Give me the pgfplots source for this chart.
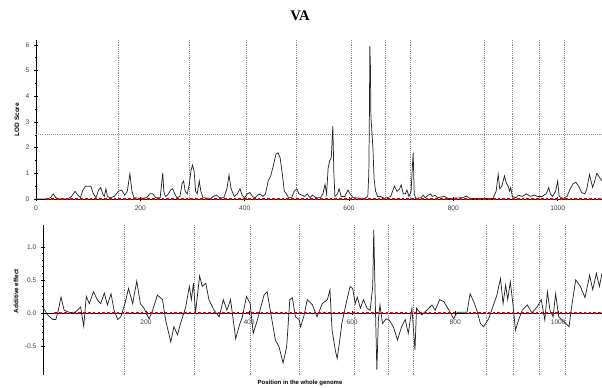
\documentclass[border=0pt]{standalone}
\usepackage{fontspec}
\setmainfont{Liberation Serif}
\setsansfont{Liberation Sans}
\usepackage{pgfplots}
\pgfplotsset{compat=1.18}
\usepackage{pgfplotstable}

\pgfplotstableread{
x y
0 0
20 0
28 0.05
33 0.2
38 0.05
45 0
60 0
68 0.1
75 0.3
80 0.15
85 0.05
90 0.35
95 0.5
100 0.5
105 0.5
110 0.2
115 0.05
120 0.35
124 0.45
128 0.2
131 0.1
134 0.4
137 0.1
142 0.05
150 0.1
158 0.3
164 0.35
170 0.15
175 0.3
180 0.98
184 0.3
188 0.05
200 0.02
212 0.05
218 0.2
224 0.2
230 0.05
238 0.05
243 1.02
245 0.3
248 0.1
252 0.15
258 0.35
262 0.4
266 0.2
270 0.05
276 0.1
280 0.6
283 0.7
286 0.3
290 0.2
294 0.6
297 1.1
300 1.32
303 1.1
306 0.3
309 0.2
313 0.7
316 0.3
320 0.05
335 0.02
340 0.1
346 0.15
352 0.05
360 0.05
366 0.4
370 0.93
374 0.4
380 0.1
386 0.2
391 0.4
395 0.15
400 0.05
405 0.2
410 0.25
415 0.1
420 0.05
425 0.15
430 0.2
435 0.1
440 0.2
445 0.7
450 0.9
455 1.3
460 1.75
464 1.8
468 1.6
472 1.0
476 0.3
480 0.2
484 0.05
490 0.05
495 0.3
500 0.4
504 0.2
510 0.15
515 0.1
520 0.2
525 0.05
530 0.15
537 0.05
545 0.05
550 0.2
554 0.57
557 0.2
560 1.2
563 1.5
566 1.6
569 2.84
571 1.0
573 0.1
578 0.2
581 0.4
585 0.1
592 0.1
598 0.35
602 0.2
608 0.05
630 0.02
636 0.1
638 1.0
639 3.0
640 5.95
641 5.2
642 3.2
644 2.6
646 1.93
648 0.8
651 0.3
655 0.1
660 0.1
668 0.02
680 0.1
687 0.5
692 0.3
697 0.4
700 0.55
704 0.2
708 0.2
711 0.35
715 0.1
719 0.3
723 1.8
725 0.2
728 0.02
738 0.05
742 0.15
746 0.05
752 0.15
756 0.2
760 0.1
765 0.15
770 0.05
783 0.1
790 0.02
818 0.05
825 0.12
832 0.02
876 0.02
882 0.3
886 0.96
889 0.4
893 0.5
898 0.9
902 0.6
905 0.5
908 0.3
910 0.45
913 0.1
920 0.05
925 0.15
932 0.1
940 0.2
948 0.1
955 0.15
962 0.1
970 0.1
978 0.2
983 0.45
986 0.2
990 0.1
996 0.3
1000 0.7
1003 0.1
1010 0.02
1018 0.1
1024 0.4
1030 0.6
1035 0.65
1040 0.5
1046 0.25
1052 0.2
1056 0.4
1061 0.96
1064 0.7
1067 0.45
1071 0.7
1075 1.0
1080 0.85
1085 0.7
}\lod

\pgfplotstableread{
x y
0 0.08
9 -0.03
19 -0.1
25 -0.1
30 0.05
35 0.24
41 0.04
50 0.01
60 0
67 0.04
73 0.09
79 -0.2
84 0.25
90 0.14
98 0.32
106 0.19
112 0.14
119 0.3
125 0.12
132 0.29
138 0.04
145 -0.1
151 -0.06
159 0.14
166 0.37
174 0.14
182 0.48
189 0.14
196 0.07
206 -0.09
212 0.02
222 0.27
232 0.2
238 -0.11
248 -0.44
254 -0.21
261 -0.33
267 -0.16
277 0.09
284 0.4
288 0.2
292 0.45
296 0
304 0.56
309 0.4
316 0.45
322 0.2
332 0.04
342 -0.06
350 0.2
357 0.04
364 0.2
371 -0.21
374 -0.39
381 -0.19
387 -0.06
395 0.25
402 0.14
408 -0.31
416 -0.11
429 0.27
435 0.32
442 0
451 -0.41
458 -0.51
466 -0.76
473 -0.51
479 0.2
484 0.23
490 -0.06
497 -0.1
500 -0.21
506 -0.06
513 0.2
523 0.12
532 -0.06
542 0.14
552 0.2
557 0.35
561 -0.26
568 -0.59
571 -0.69
576 -0.41
580 -0.16
590 0.2
596 0.4
601 0.37
606 0.14
610 0.24
616 0.07
622 0.2
629 0.07
635 0.04
640 0.4
642 1.26
645 0.14
648 -0.86
651 -0.1
654 0.12
659 -0.16
666 -0.09
672 -0.11
680 -0.21
688 -0.41
696 -0.21
703 -0.1
709 -0.31
716 0.07
722 -0.56
725 0.07
735 -0.03
745 0.04
755 0.12
761 0.04
770 0.2
778 0.17
788 0.04
797 -0.09
804 0.01
810 0.01
823 0.01
829 0.29
836 0.17
842 0.04
849 -0.16
855 -0.21
865 -0.09
873 0.09
881 0.27
888 0.52
893 0.14
898 0.42
902 0.2
907 0.47
912 0.14
917 -0.26
923 -0.11
930 0.04
940 0.12
949 0
959 0.09
967 0.2
974 -0.11
979 0.32
984 0.04
990 -0.06
995 0.29
1001 -0.06
1011 -0.13
1021 -0.21
1026 0.09
1034 0.5
1043 0.4
1052 0.23
1061 0.57
1067 0.35
1074 0.6
1080 0.4
1085 0.6
}\add

\pgfplotsset{
  vaaxis/.style={
    scale only axis,
    xmin=0, xmax=1085,
    axis line style={black, line width=0.5pt},
    tick align=center,
    major tick length=3pt,
    minor tick length=1.6pt,
    tick style={black, line width=0.4pt},
    ticklabel style={font=\sffamily\fontsize{5}{6}\selectfont, text=black!75},
    /pgf/number format/assume math mode=true,
    /pgf/number format/1000 sep={},
    ylabel style={font=\sffamily\bfseries\fontsize{4.8}{6}\selectfont},
    extra x ticks={158,294,403,498,605,670,718,860,913,964,1013},
    extra x tick labels={},
    extra x tick style={grid=major, major grid style={densely dotted, black!45, line width=0.4pt}, major tick length=0pt},
    clip=false,
  }
}

\begin{document}
\begin{tikzpicture}
\useasboundingbox (0,0) rectangle (451.5pt,291pt);

% top panel: LOD score
\begin{axis}[vaaxis,
  at={(27pt,141.75pt)}, anchor=south west,
  width=424.5pt, height=119.25pt,
  ymin=0, ymax=6.19,
  axis x line*=bottom, axis y line*=left,
  xtick={0,200,400,600,800,1000},
  ytick={0,1,2,3,4,5,6},
  minor y tick num=1,
  yticklabel style={/pgf/number format/fixed},
  ylabel={LOD Score},
  ylabel style={yshift=-2pt},
]
\addplot[black!45, densely dotted, line width=0.6pt] coordinates {(0,2.53) (1085,2.53)};
\addplot[black!85, line width=0.55pt] table[x=x,y=y] {\lod};
\addplot[red!85!black, line width=1pt, dash pattern=on 2pt off 1.6pt] coordinates {(20,0) (1085,0)};
\end{axis}

% bottom panel: additive effect
\begin{axis}[vaaxis,
  at={(32.25pt,9.75pt)}, anchor=south west,
  width=419.25pt, height=112.5pt,
  ymin=-0.94, ymax=1.33,
  axis x line*=middle, axis y line*=left,
  xtick={200,400,600,800,1000},
  ytick={-0.5,0,0.5,1},
  minor y tick num=4,
  yticklabel style={/pgf/number format/fixed, /pgf/number format/fixed zerofill, /pgf/number format/precision=1},
  ylabel={Additive effect},
  ylabel style={at={(ticklabel cs:0.56)}, yshift=-2pt},
]
\addplot[black!85, line width=0.55pt] table[x=x,y=y] {\add};
\addplot[red!85!black, line width=1pt, dash pattern=on 2pt off 1.6pt] coordinates {(22,0) (800,0)};
\addplot[red!85!black, line width=1pt, dash pattern=on 2pt off 1.6pt] coordinates {(826,0) (1085,0)};
\end{axis}

\node[font=\bfseries\fontsize{11}{13}\selectfont] at (225pt,279pt) {VA};
\node[font=\sffamily\bfseries\fontsize{4.5}{5}\selectfont] at (225pt,3.5pt) {Position in the whole genome};
\end{tikzpicture}
\end{document}
